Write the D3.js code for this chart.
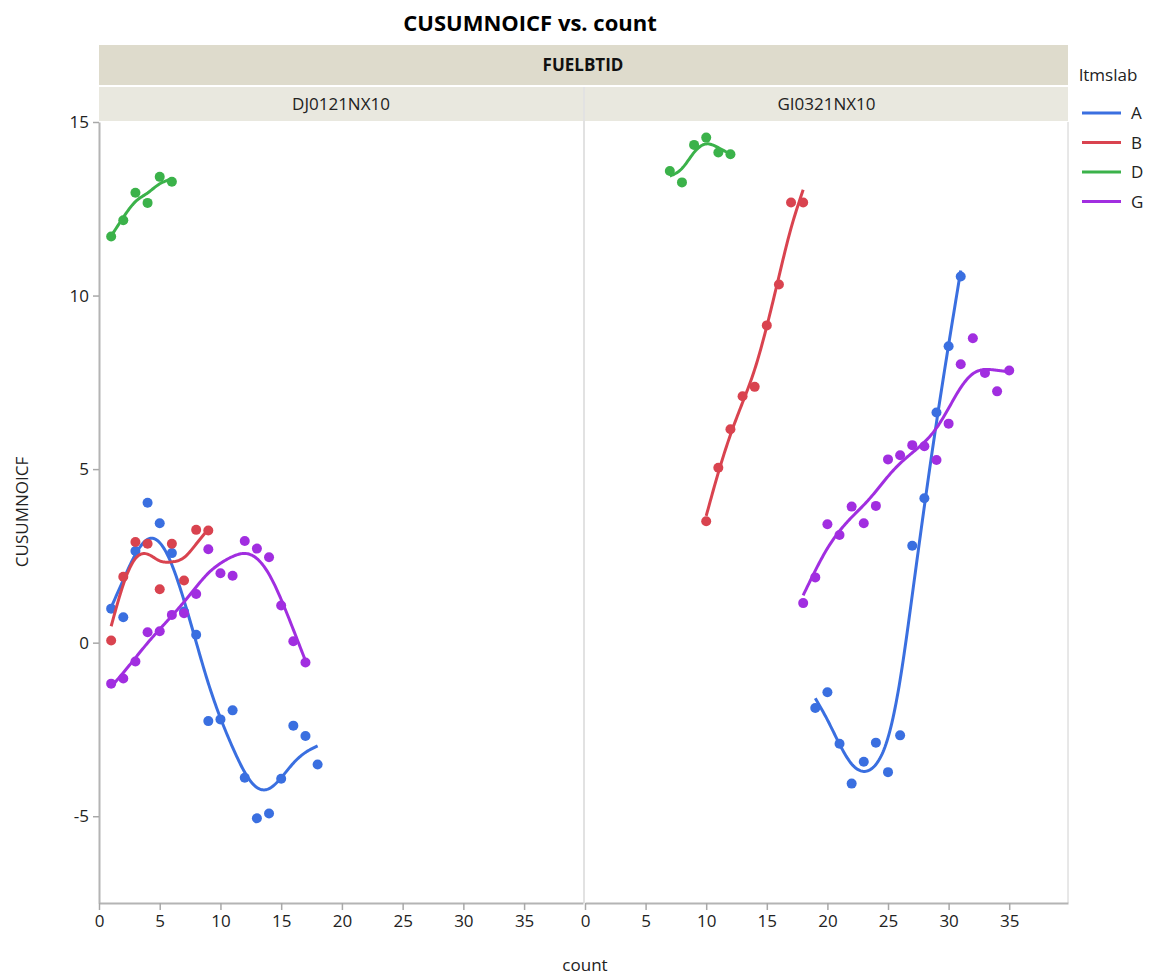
<!DOCTYPE html>
<html>
<head>
<meta charset="utf-8">
<script src="https://cdn.jsdelivr.net/npm/d3@7"></script>
<style>
  body { margin: 0; background: #fff; }
  text { font-family: "Open Sans", "Noto Sans", sans-serif; }
</style>
</head>
<body>
<div id="chart"></div>
<script>
// panels (FUELBTID) and groups (ltmslab)
const panels = ["DJ0121NX10", "GI0321NX10"];
const groups = ["A", "B", "D", "G"];
const groupColors = ["#3a6fe0", "#d9434f", "#3bb24a", "#a12ee0"];

const xTicks = [0, 5, 10, 15, 20, 25, 30, 35];
const yTicks = [-5, 0, 5, 10, 15];

// DJ0121NX10
const djA_count = [1, 2, 3, 4, 5, 6, 7, 8, 9, 10, 11, 12, 13, 14, 15, 16, 17, 18];
const djA_value = [0.98, 0.73, 2.64, 4.03, 3.44, 2.58, 0.9, 0.23, -2.26, -2.21, -1.95, -3.89, -5.06, -4.92, -3.92, -2.39, -2.69, -3.51];
const djB_count = [1, 2, 3, 4, 5, 6, 7, 8, 9];
const djB_value = [0.06, 1.9, 2.9, 2.85, 1.54, 2.85, 1.79, 3.25, 3.23];
const djD_count = [1, 2, 3, 4, 5, 6];
const djD_value = [11.7, 12.17, 12.96, 12.67, 13.42, 13.28];
const djG_count = [1, 2, 3, 4, 5, 6, 7, 8, 9, 10, 11, 12, 13, 14, 15, 16, 17];
const djG_value = [-1.18, -1.03, -0.54, 0.3, 0.33, 0.8, 0.85, 1.4, 2.69, 2.0, 1.93, 2.93, 2.71, 2.46, 1.07, 0.04, -0.57];

// GI0321NX10
const giA_count = [19, 20, 21, 22, 23, 24, 25, 26, 27, 28, 29, 30, 31];
const giA_value = [-1.88, -1.43, -2.91, -4.06, -3.43, -2.88, -3.73, -2.67, 2.79, 4.16, 6.63, 8.54, 10.55];
const giB_count = [10, 11, 12, 13, 14, 15, 16, 17, 18];
const giB_value = [3.5, 5.04, 6.15, 7.1, 7.37, 9.14, 10.32, 12.68, 12.68];
const giD_count = [7, 8, 9, 10, 11, 12];
const giD_value = [13.59, 13.26, 14.34, 14.55, 14.12, 14.07];
const giG_count = [18, 19, 20, 21, 22, 23, 24, 25, 26, 27, 28, 29, 30, 31, 32, 33, 34, 35];
const giG_value = [1.14, 1.88, 3.41, 3.1, 3.92, 3.44, 3.94, 5.28, 5.4, 5.69, 5.66, 5.26, 6.31, 8.02, 8.77, 7.77, 7.24, 7.84];

const series = [
  { panel: 0, group: "A", x: djA_count, y: djA_value },
  { panel: 0, group: "B", x: djB_count, y: djB_value },
  { panel: 0, group: "D", x: djD_count, y: djD_value },
  { panel: 0, group: "G", x: djG_count, y: djG_value },
  { panel: 1, group: "A", x: giA_count, y: giA_value },
  { panel: 1, group: "B", x: giB_count, y: giB_value },
  { panel: 1, group: "D", x: giD_count, y: giD_value },
  { panel: 1, group: "G", x: giG_count, y: giG_value }
];

const width = 1161, height = 979;
const plotTop = 122, plotBottom = 903;
const panelX = [[99, 583], [585, 1068]];
// smoother stiffness, scaled by each series' x range
const lambdaScale = 0.013;

const color = d3.scaleOrdinal().domain(groups).range(groupColors);
const y = d3.scaleLinear().domain([-7.5, 15]).range([plotBottom, plotTop]);
const xScales = panelX.map(r => d3.scaleLinear().domain([0, 39.85]).range(r));

// cubic smoothing spline (Reinsch), returns sampled curve
function smoothSpline(xs, ys, lam) {
  const n = xs.length;
  if (n < 3) return xs.map((v, i) => [v, ys[i]]);
  const h = [];
  for (let i = 0; i < n - 1; i++) h.push(xs[i + 1] - xs[i]);
  const m = n - 2;
  const Q = Array.from({ length: n }, () => new Array(m).fill(0));
  const R = Array.from({ length: m }, () => new Array(m).fill(0));
  for (let j = 0; j < m; j++) {
    Q[j][j] = 1 / h[j];
    Q[j + 1][j] = -1 / h[j] - 1 / h[j + 1];
    Q[j + 2][j] = 1 / h[j + 1];
    R[j][j] = (h[j] + h[j + 1]) / 3;
    if (j < m - 1) { R[j][j + 1] = h[j + 1] / 6; R[j + 1][j] = h[j + 1] / 6; }
  }
  const A = Array.from({ length: m }, () => new Array(m + 1).fill(0));
  for (let i = 0; i < m; i++) {
    for (let j = 0; j < m; j++) {
      let s = 0;
      for (let k = 0; k < n; k++) s += Q[k][i] * Q[k][j];
      A[i][j] = R[i][j] + lam * s;
    }
    let b = 0;
    for (let k = 0; k < n; k++) b += Q[k][i] * ys[k];
    A[i][m] = b;
  }
  // gaussian elimination
  for (let c = 0; c < m; c++) {
    let p = c;
    for (let r = c + 1; r < m; r++) if (Math.abs(A[r][c]) > Math.abs(A[p][c])) p = r;
    [A[c], A[p]] = [A[p], A[c]];
    for (let r = c + 1; r < m; r++) {
      const f = A[r][c] / A[c][c];
      for (let k = c; k <= m; k++) A[r][k] -= f * A[c][k];
    }
  }
  const gam = new Array(m).fill(0);
  for (let r = m - 1; r >= 0; r--) {
    let s = A[r][m];
    for (let k = r + 1; k < m; k++) s -= A[r][k] * gam[k];
    gam[r] = s / A[r][r];
  }
  const g = ys.map((v, i) => {
    let s = 0;
    for (let j = 0; j < m; j++) s += Q[i][j] * gam[j];
    return v - lam * s;
  });
  const g2 = [0, ...gam, 0];
  const pts = [];
  for (let i = 0; i < n - 1; i++) {
    const hi = h[i];
    const steps = 12;
    for (let s = 0; s < steps; s++) {
      const t = xs[i] + hi * s / steps;
      const a = xs[i + 1] - t, b = t - xs[i];
      const v = (a * g[i] + b * g[i + 1]) / hi
        - a * b / 6 * ((1 + a / hi) * g2[i] + (1 + b / hi) * g2[i + 1]);
      pts.push([t, v]);
    }
  }
  pts.push([xs[n - 1], g[n - 1]]);
  return pts;
}

const svg = d3.select("#chart").append("svg")
  .attr("width", width).attr("height", height);

// title
svg.append("text")
  .attr("x", 530).attr("y", 31)
  .attr("text-anchor", "middle")
  .attr("font-size", 22).attr("font-weight", "bold")
  .attr("fill", "#000")
  .text("CUSUMNOICF vs. count");

// header strips
svg.append("rect")
  .attr("x", 99).attr("y", 45).attr("width", 969).attr("height", 40)
  .attr("fill", "#dedbcc");
svg.append("text")
  .attr("x", 583).attr("y", 71).attr("text-anchor", "middle")
  .attr("font-size", 17).attr("font-weight", "bold").attr("fill", "#111")
  .text("FUELBTID");

panels.forEach((p, i) => {
  const [x0, x1] = panelX[i];
  svg.append("rect")
    .attr("x", x0).attr("y", 87).attr("width", x1 - x0).attr("height", 34)
    .attr("fill", "#e9e8df");
  svg.append("text")
    .attr("x", (x0 + x1) / 2).attr("y", 110).attr("text-anchor", "middle")
    .attr("font-size", 17).attr("fill", "#222")
    .text(p);
});

// panel frames
svg.append("line")
  .attr("x1", 584).attr("x2", 584).attr("y1", 87).attr("y2", plotBottom)
  .attr("stroke", "#e2e2e2").attr("stroke-width", 2);
svg.append("line")
  .attr("x1", 1068).attr("x2", 1068).attr("y1", plotTop).attr("y2", plotBottom)
  .attr("stroke", "#d0d0d0").attr("stroke-width", 1);

const fmt = d => String(d);

// y axis
const yAxis = svg.append("g")
  .attr("transform", `translate(99,0)`)
  .call(d3.axisLeft(y).tickValues(yTicks).tickFormat(fmt).tickSize(6).tickSizeOuter(0));
yAxis.select(".domain").attr("stroke", "#b4b4b4").attr("stroke-width", 2);
yAxis.selectAll(".tick line").attr("stroke", "#a8a8a8").attr("stroke-width", 1.5);
yAxis.selectAll(".tick text").attr("font-size", 17).attr("fill", "#222").attr("x", -10)
  .attr("font-family", "'Open Sans', sans-serif");

// x axes
xScales.forEach((xs, i) => {
  const g = svg.append("g")
    .attr("transform", `translate(0,${plotBottom})`)
    .call(d3.axisBottom(xs).tickValues(xTicks).tickFormat(fmt).tickSize(7).tickSizeOuter(0));
  g.select(".domain").attr("stroke", "#b4b4b4").attr("stroke-width", 2);
  g.selectAll(".tick line").attr("stroke", "#a8a8a8").attr("stroke-width", 1.5);
  g.selectAll(".tick text").attr("font-size", 17).attr("fill", "#222").attr("y", 12)
    .attr("font-family", "'Open Sans', sans-serif");
});

// axis titles
svg.append("text")
  .attr("transform", `translate(28,512) rotate(-90)`)
  .attr("text-anchor", "middle").attr("font-size", 17).attr("fill", "#222")
  .text("CUSUMNOICF");
svg.append("text")
  .attr("x", 585).attr("y", 971).attr("text-anchor", "middle")
  .attr("font-size", 17).attr("fill", "#222")
  .text("count");

// curves and points
const line = d3.line();
series.forEach(s => {
  const xs = xScales[s.panel];
  const g = svg.append("g");
  const range = d3.max(s.x) - d3.min(s.x);
  const pts = smoothSpline(s.x, s.y, lambdaScale * range * range);
  g.append("path")
    .attr("d", line(pts.map(p => [xs(p[0]), y(p[1])])))
    .attr("fill", "none")
    .attr("stroke", color(s.group))
    .attr("stroke-width", 3);
  g.selectAll("circle")
    .data(s.x.map((v, i) => [v, s.y[i]]))
    .join("circle")
    .attr("cx", d => xs(d[0]))
    .attr("cy", d => y(d[1]))
    .attr("r", 5)
    .attr("fill", color(s.group));
});

// legend
const legend = svg.append("g").attr("transform", "translate(1077,0)");
legend.append("text")
  .attr("x", 2).attr("y", 81).attr("font-size", 17).attr("fill", "#222")
  .text("ltmslab");
groups.forEach((grp, i) => {
  const ly = 113 + i * 29.5;
  legend.append("line")
    .attr("x1", 5).attr("x2", 44).attr("y1", ly).attr("y2", ly)
    .attr("stroke", color(grp)).attr("stroke-width", 3);
  legend.append("text")
    .attr("x", 54).attr("y", ly + 6).attr("font-size", 17).attr("fill", "#222")
    .text(grp);
});
</script>
</body>
</html>
